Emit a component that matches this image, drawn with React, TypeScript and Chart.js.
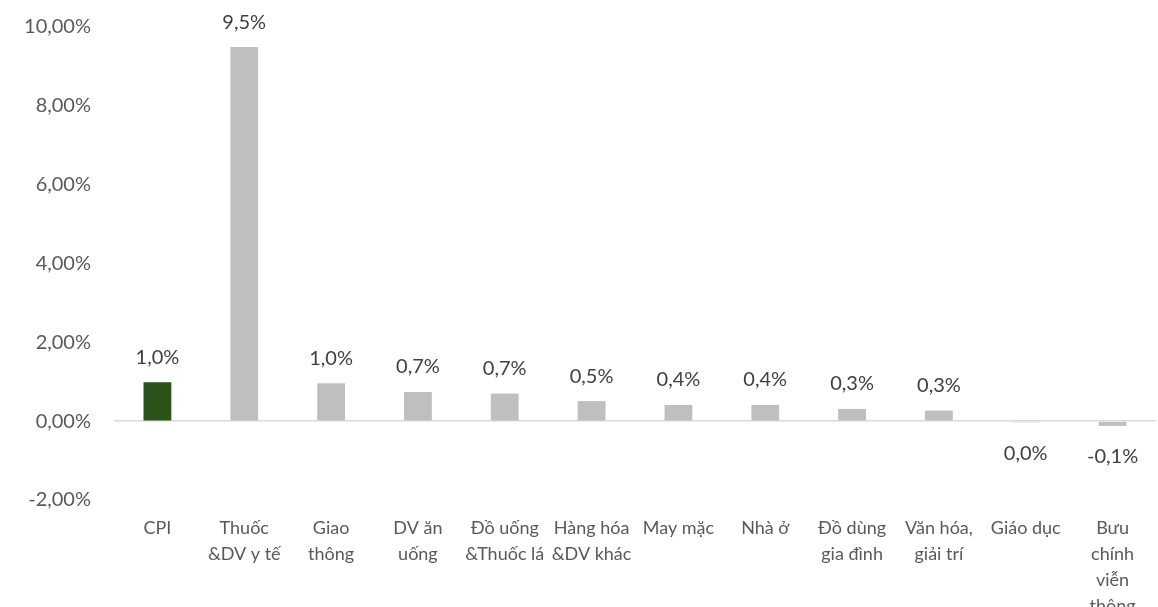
import React, { useEffect, useRef } from "react";
import { Chart, registerables } from "chart.js";

Chart.register(...registerables);

const categories: string[][] = [
  ["CPI"],
  ["Thuốc", "&DV y tế"],
  ["Giao", "thông"],
  ["DV ăn", "uống"],
  ["Đồ uống", "&Thuốc lá"],
  ["Hàng hóa", "&DV khác"],
  ["May mặc"],
  ["Nhà ở"],
  ["Đồ dùng", "gia đình"],
  ["Văn hóa,", "giải trí"],
  ["Giáo dục"],
  ["Bưu", "chính", "viễn", "thông"],
];

const values: number[] = [0.99, 9.49, 0.96, 0.74, 0.7, 0.51, 0.41, 0.41, 0.31, 0.27, -0.03, -0.12];

const barColors: string[] = [
  "#2A5219", "#BFBFBF", "#BFBFBF", "#BFBFBF", "#BFBFBF", "#BFBFBF",
  "#BFBFBF", "#BFBFBF", "#BFBFBF", "#BFBFBF", "#BFBFBF", "#BFBFBF",
];

const yTicks = { min: -2, max: 10, step: 2 };

const fmtLabel = (v: number) => {
  let r = Math.round(v * 10) / 10;
  if (Math.abs(r) < 0.05) r = 0;
  return r.toFixed(1).replace(".", ",") + "%";
};

const dataLabelPlugin = {
  id: "dataLabels",
  afterDatasetsDraw(chart: any) {
    const ctx = chart.ctx;
    const meta = chart.getDatasetMeta(0);
    ctx.save();
    ctx.font = "20px Lato";
    ctx.fillStyle = "#404040";
    ctx.textAlign = "center";
    ctx.textBaseline = "middle";
    meta.data.forEach((bar: any, i: number) => {
      const v = values[i];
      const y = v >= 0 ? Math.min(bar.y, bar.base) - 25 : Math.max(bar.y, bar.base) + 31;
      ctx.fillText(fmtLabel(v), bar.x, y);
    });
    ctx.restore();
  },
};

export default function App() {
  const ref = useRef<HTMLCanvasElement | null>(null);
  useEffect(() => {
    if (!ref.current) return;
    const chart = new Chart(ref.current, {
      type: "bar",
      data: {
        labels: categories,
        datasets: [
          {
            data: values,
            backgroundColor: barColors,
            barPercentage: 0.32,
            categoryPercentage: 1,
          },
        ],
      },
      options: {
        animation: false,
        responsive: true,
        maintainAspectRatio: false,
        layout: { padding: { top: 27, right: 2, left: 0, bottom: 0 } },
        plugins: {
          legend: { display: false },
          tooltip: { enabled: false },
        },
        scales: {
          x: {
            grid: { display: false, drawTicks: false },
            border: { display: false },
            ticks: {
              autoSkip: false,
              maxRotation: 0,
              minRotation: 0,
              padding: 15,
              color: "#595959",
              font: { family: "Lato", size: 18, lineHeight: 1.45 },
            },
            afterFit: (s: any) => {
              s.height = 107;
            },
          },
          y: {
            min: yTicks.min,
            max: yTicks.max,
            grid: {
              drawTicks: true,
              tickLength: 23,
              tickColor: "rgba(0,0,0,0)",
              color: (c: any) => (c.tick && c.tick.value === 0 ? "#D9D9D9" : "rgba(0,0,0,0)"),
              lineWidth: 1.5,
            },
            border: { display: false },
            ticks: {
              stepSize: yTicks.step,
              padding: 0,
              color: "#595959",
              font: { family: "Lato", size: 20 },
              callback: (v: any) => Number(v).toFixed(2).replace(".", ",") + "%",
            },
            afterFit: (s: any) => {
              s.width = 114;
            },
          },
        },
      },
      plugins: [dataLabelPlugin],
    });
    return () => chart.destroy();
  }, []);
  return (
    <div style={{ position: "fixed", left: 0, top: 0, width: 1158, height: 607, background: "#fff" }}>
      <canvas ref={ref} />
    </div>
  );
}
